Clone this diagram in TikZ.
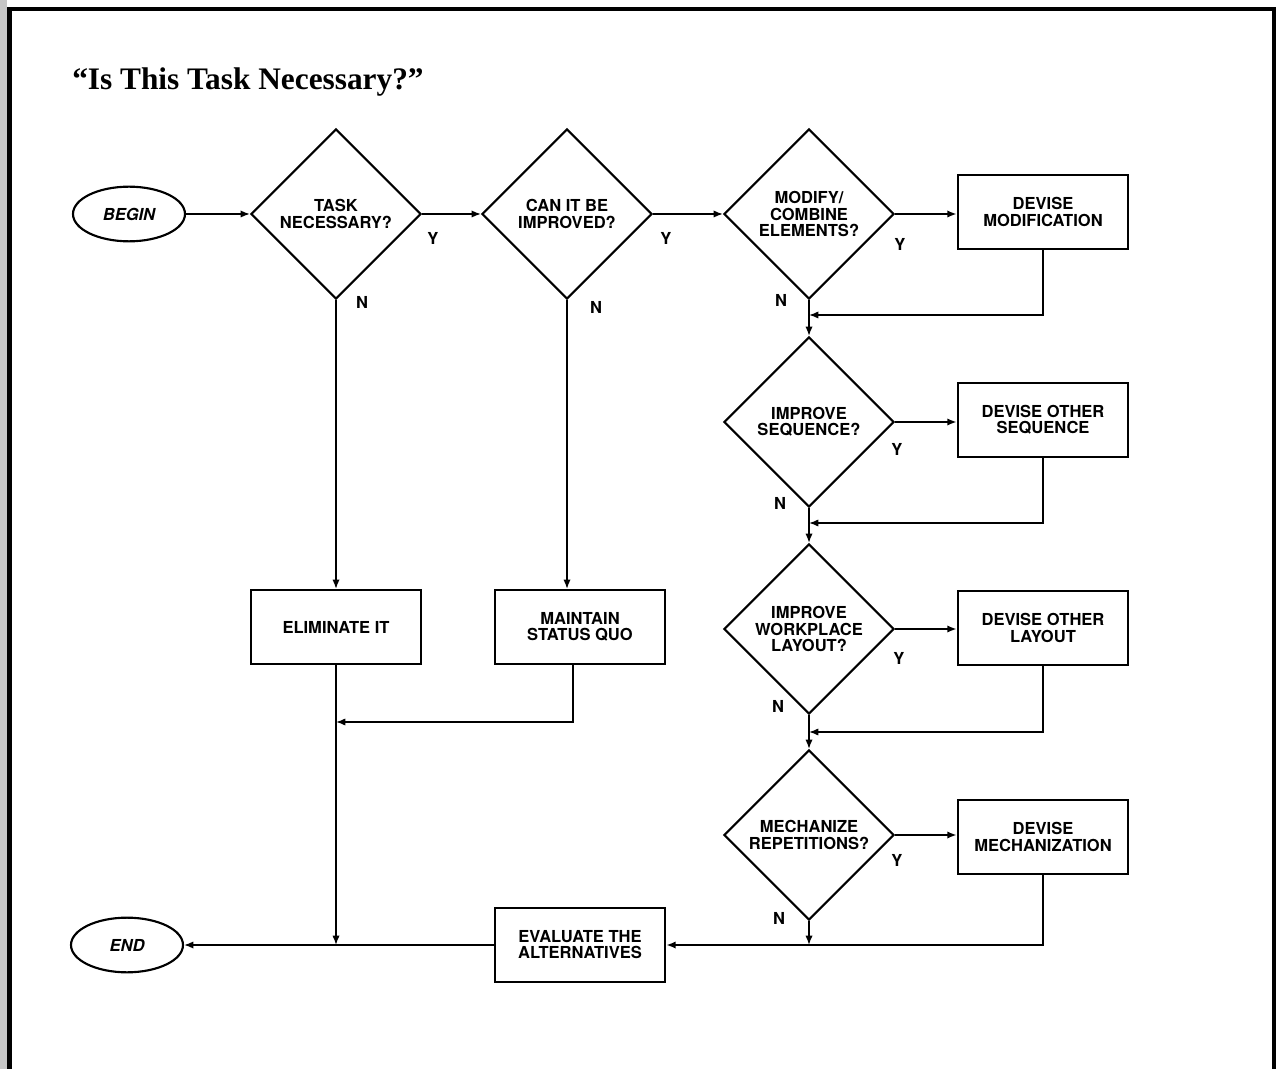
\documentclass[tikz,border=0pt]{standalone}
\usepackage{fontspec}
\setmainfont{Liberation Serif}
\newfontfamily\heros{TeX Gyre Heros}
\usetikzlibrary{shapes.geometric,arrows.meta,calc}
\begin{document}
\begin{tikzpicture}[x=0.75pt,y=-0.75pt,
  txt/.style={font=\heros\bfseries\fontsize{12.4}{12.1}\selectfont},
  dec/.style={diamond,draw,line width=1.6pt,minimum width=127.5pt,minimum height=127.5pt,inner sep=0pt,align=center,txt},
  proc/.style={rectangle,draw,line width=1.6pt,minimum width=128pt,minimum height=55.5pt,inner sep=0pt,align=center,txt},
  term/.style={ellipse,draw,line width=1.6pt,minimum width=84pt,minimum height=41pt,inner sep=0pt,font=\heros\bfseries\itshape\fontsize{12.4}{12.4}\selectfont},
  lab/.style={inner sep=0pt,txt},
  conn/.style={line width=1.2pt},
  arr/.style={conn,-{Latex[length=7pt,width=5.5pt]}}
]
\useasboundingbox (0,0) rectangle (1278,1069);
% frame
\fill[gray!45] (0,0) rectangle (7,1069);
\draw[line width=3.4pt,line join=miter] (9.5,1080) -- (9.5,9) -- (1274,9) -- (1274,1080);
% title
\node[anchor=base west,inner sep=0pt,font=\bfseries\fontsize{23.5}{28}\selectfont] (title) at (72,90) {“Is This Task Necessary?”};

% nodes
\node[term] (begin) at (129,214) {BEGIN};
\node[dec] (d1) at (336,214) {TASK\\NECESSARY?};
\node[dec] (d2) at (567,214) {CAN IT BE\\IMPROVED?};
\node[dec] (d3) at (809,214) {MODIFY/\\COMBINE\\ELEMENTS?};
\node[proc] (m1) at (1043,212) {DEVISE\\MODIFICATION};
\node[dec] (d4) at (809,422) {IMPROVE\\SEQUENCE?};
\node[proc] (m2) at (1043,420) {DEVISE OTHER\\SEQUENCE};
\node[dec] (d5) at (809,629) {IMPROVE\\WORKPLACE\\LAYOUT?};
\node[proc] (m3) at (1043,628) {DEVISE OTHER\\LAYOUT};
\node[dec] (d6) at (809,835) {MECHANIZE\\REPETITIONS?};
\node[proc] (m4) at (1043,837) {DEVISE\\MECHANIZATION};
\node[proc] (elim) at (336,627) {ELIMINATE IT};
\node[proc] (maint) at (580,627) {MAINTAIN\\STATUS QUO};
\node[proc] (eval) at (580,945) {EVALUATE THE\\ALTERNATIVES};
\node[term] (end) at (127,945) {END};

% labels
\node[lab] (y1) at (433,238) {Y};
\node[lab] (n1) at (362,302) {N};
\node[lab] (y2) at (666,238) {Y};
\node[lab] (n2) at (596,307) {N};
\node[lab] (y3) at (900,244) {Y};
\node[lab] (n3) at (781,300) {N};
\node[lab] (y4) at (897,449) {Y};
\node[lab] (n4) at (780,503) {N};
\node[lab] (y5) at (899,658) {Y};
\node[lab] (n5) at (778,706) {N};
\node[lab] (y6) at (897,860) {Y};
\node[lab] (n6) at (779,918) {N};

% join points
\coordinate (j1) at (809,315);
\coordinate (j2) at (809,523);
\coordinate (j3) at (809,732);
\coordinate (j5) at (336,722);

% connectors
\draw[arr] (begin.east) -- (d1.west);
\draw[arr] (d1.east) -- (d2.west);
\draw[arr] (d2.east) -- (d3.west);
\draw[arr] (d3.east) -- (d3.east -| m1.west);
\draw[arr] (d1.south) -- (d1.south |- elim.north);
\draw[arr] (d2.south) -- (d2.south |- maint.north);
\draw[arr] (m1.south) |- (j1);
\draw[arr] (d3.south) -- (d4.north);
\draw[arr] (d4.east) -- (d4.east -| m2.west);
\draw[arr] (m2.south) |- (j2);
\draw[arr] (d4.south) -- (d5.north);
\draw[arr] (d5.east) -- (d5.east -| m3.west);
\draw[arr] (m3.south) |- (j3);
\draw[arr] (d5.south) -- (d6.north);
\draw[arr] (d6.east) -- (d6.east -| m4.west);
\draw[arr] (m4.south) |- (eval.east);
\draw[arr] (d6.south) -- (d6.south |- eval.east);
\draw[arr] ($(maint.south)+(-7,0)$) |- (j5);
\draw[arr] (elim.south) -- (elim.south |- end.east);
\draw[arr] (eval.west) -- (end.east);
\end{tikzpicture}
\end{document}
